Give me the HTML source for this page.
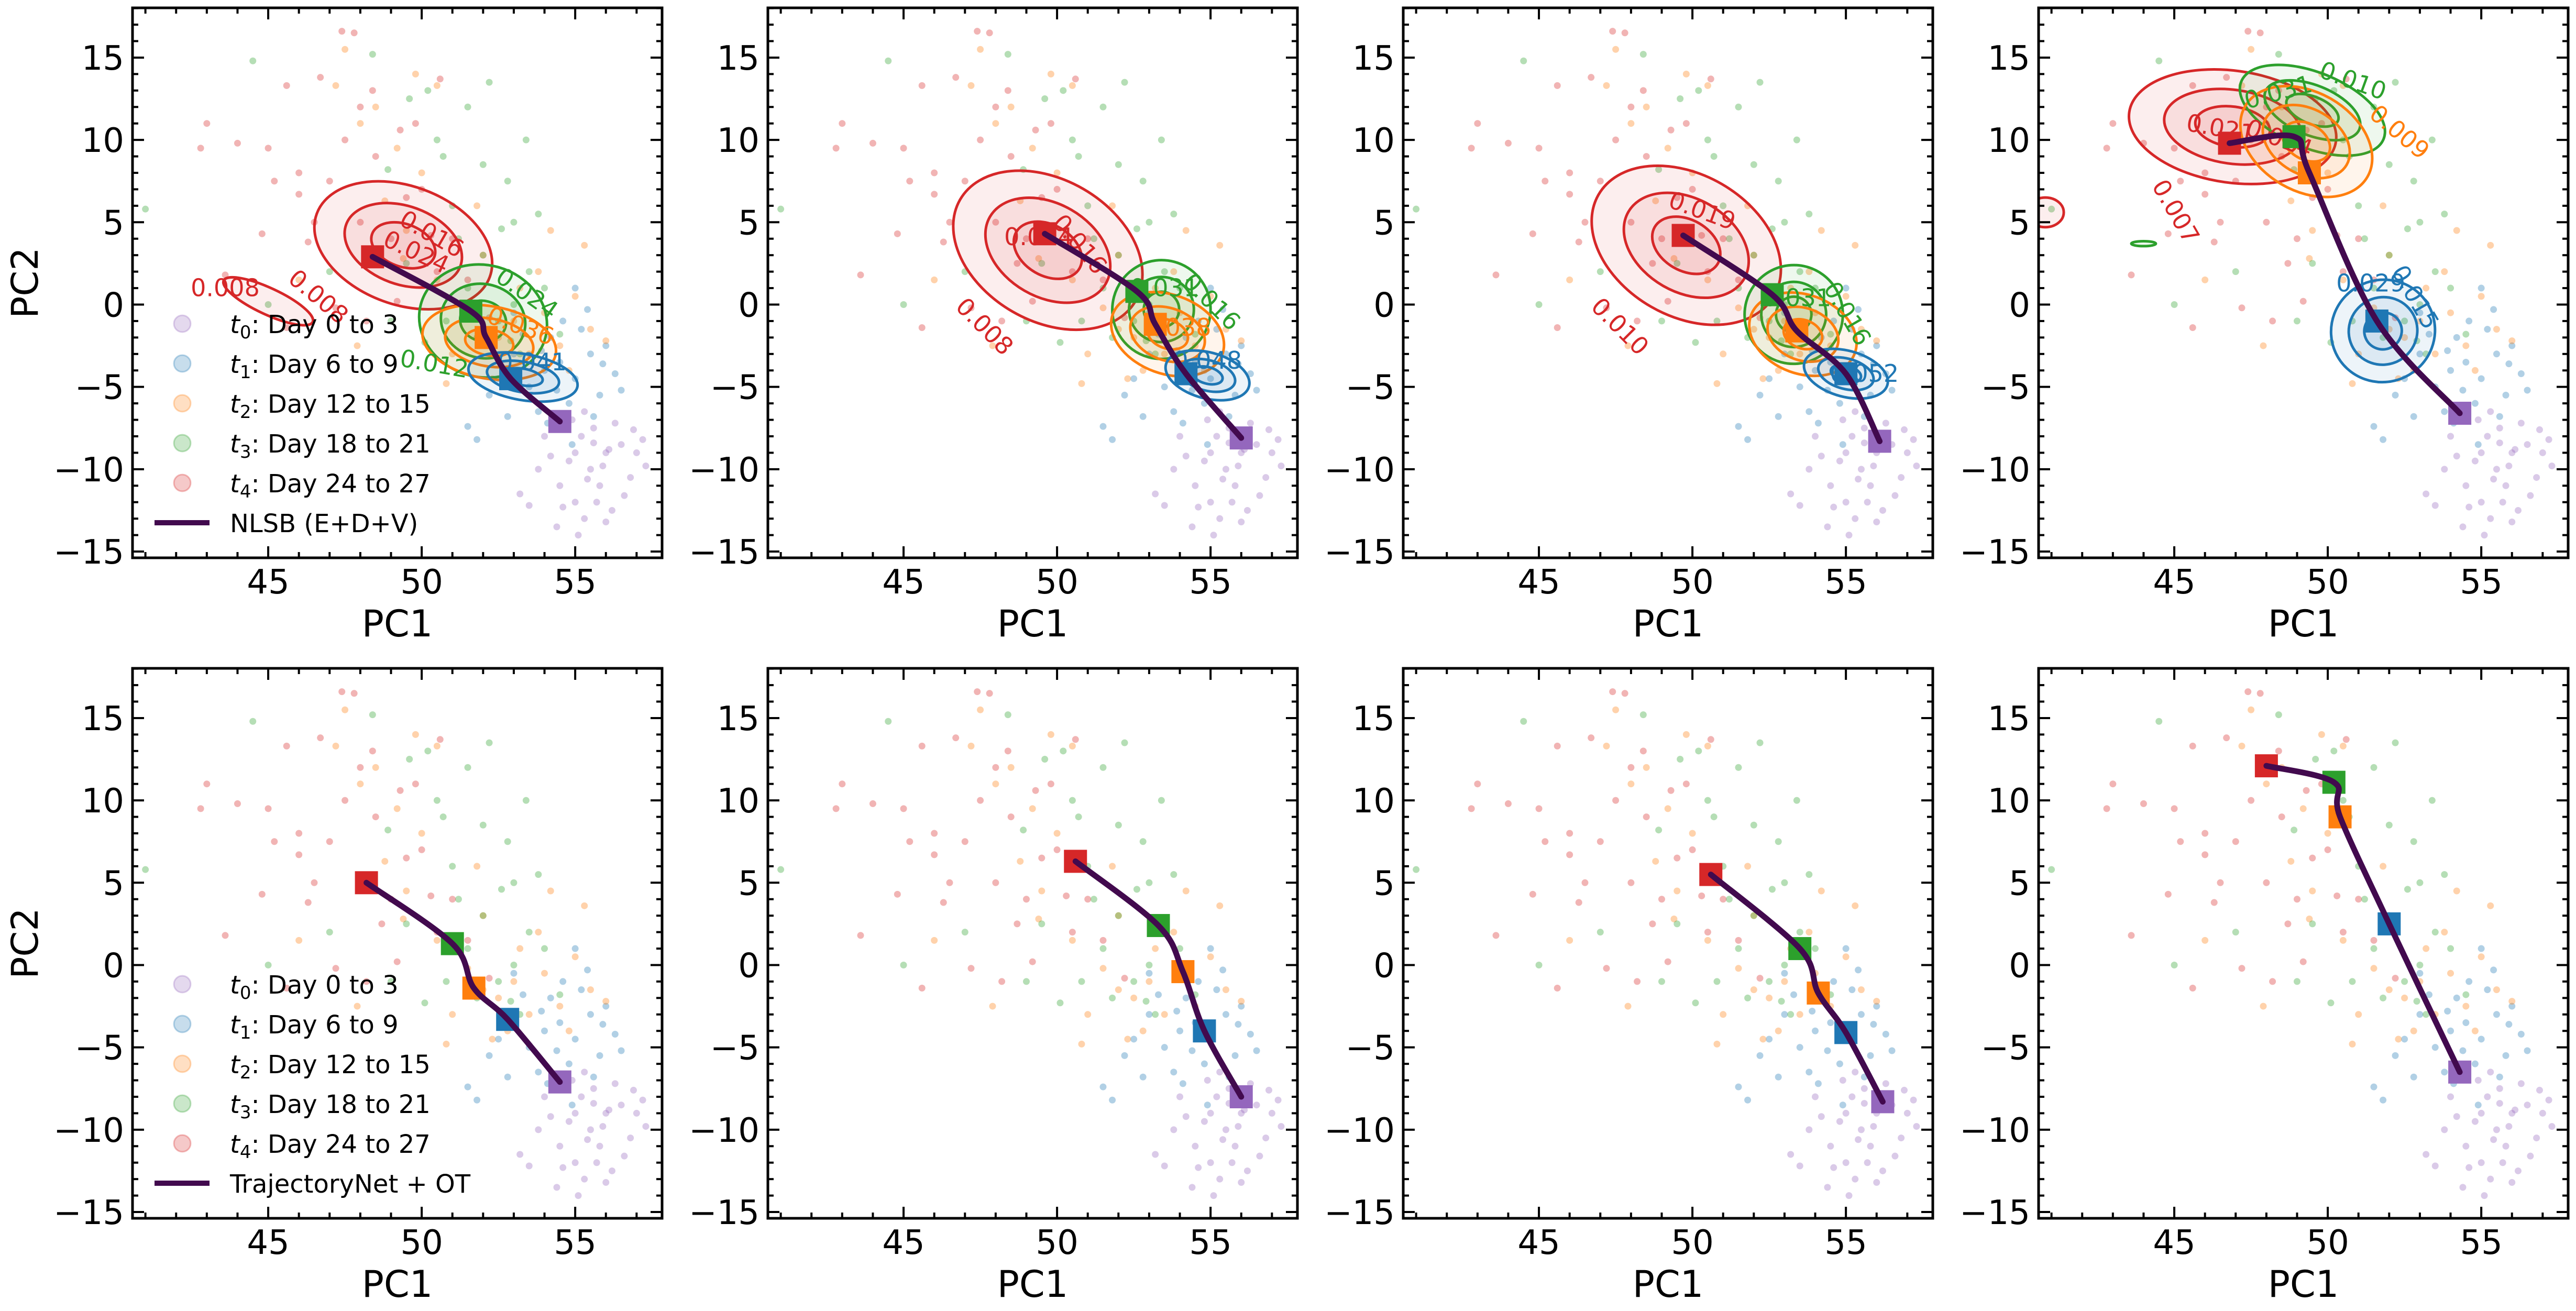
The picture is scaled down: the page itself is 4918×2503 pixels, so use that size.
<!DOCTYPE html>
<html><head><meta charset="utf-8"><style>
html,body{margin:0;padding:0;background:#fff;}
svg{display:block;font-family:"DejaVu Sans","Liberation Sans",sans-serif;}
</style></head><body>
<svg id="fig" width="4918" height="2503" viewBox="0 0 4918 2503" xmlns="http://www.w3.org/2000/svg"></svg>
<script>
// ---- data ----
const classColors = ["#9467bd","#1f77b4","#ff7f0e","#2ca02c","#d62728"];
const legendLabels = ["Day 0 to 3","Day 6 to 9","Day 12 to 15","Day 18 to 21","Day 24 to 27"];
const methodLabels = ["NLSB (E+D+V)","TrajectoryNet + OT"];
const xTicks = [45,50,55];
const yTicks = [-15,-10,-5,0,5,10,15];
const xLim = [40.58,57.83];
const yLim = [-15.38,18.02];
const pts0 = [[55.2,-8],[56,-9],[55.5,-10],[54.8,-9.5],[56.5,-8.5],[57,-9],[55.8,-11],[55,-12],[56.2,-12.5],[54.5,-11],[55.3,-13],[55.6,-7.5],[56.8,-10.5],[54,-8],[53.8,-10],[55.1,-14],[56.3,-7.2],[57.2,-8.2],[55.9,-9.8],[54.6,-12.3],[56.6,-11.6],[55.4,-10.6],[54.2,-9.2],[55.7,-12],[56.1,-8.8],[53.5,-12.2],[55,-9],[56.9,-7.6],[54.9,-7],[55.3,-6.5],[56,-13.2],[53.2,-11.5],[57.3,-9.8],[55.6,-8.4],[54.4,-13.5]];
const pts1 = [[54,-4],[54.5,-3.5],[53.5,-5],[55,-4.5],[55.5,-3],[54.2,-2],[53,-3],[52.5,-4.5],[54.8,-6],[55.8,-5.5],[53.8,-6.5],[54.6,-1],[56,-2.5],[55.2,-1.5],[53.3,-1.8],[52.8,-6.8],[54.1,-7.2],[55.6,-6.8],[56.3,-4.2],[53.9,-2.8],[55.4,-0.3],[52.2,-5.5],[51.5,-7.4],[54.9,-8.5],[56.5,-5.2],[53,-0.5],[55,1],[51.8,-8.2],[54.4,-5.2],[55.9,-3.6]];
const pts2 = [[53,-1],[52.5,-2],[54,-0.5],[53.5,-3],[52,-1.5],[54.5,-2.5],[51.5,-0.2],[55,0.5],[53.2,1],[52.8,-4],[54.8,-4],[55.5,-1.5],[51,-3],[50.5,1.5],[52,3],[49.5,4.5],[50,8],[49.2,9.5],[48.5,12],[47.2,13.3],[48,11],[49.8,14],[50.5,13.3],[47.5,15.5],[46,1.5],[55.3,3.6],[56,-2.2],[52.3,-4.5],[50.8,-4.8],[53.8,2],[48.8,6.3],[47.9,-2.5],[51.8,6],[49.4,2.8],[54.2,4.5]];
const pts3 = [[52,3],[53,5],[51.5,1],[52.5,-1],[53.5,2],[51,6],[52.8,7.5],[50.5,10],[51.5,12],[50.2,13],[52,8.5],[53,0],[54,1],[49.5,2.5],[50.8,-1],[53.2,-3],[51.8,-2],[49,-1],[48.4,15.2],[44.5,14.8],[41,5.8],[45,0],[53.8,5.5],[52.2,13.5],[50.7,9],[51.2,4],[54.5,-1.8],[49.6,12.5],[53.4,10],[52.6,4.6],[48.9,8.2],[50.1,-2.3],[47,2],[52.9,-2.2]];
const pts4 = [[48,5],[49,4],[47,7.5],[46.5,5],[48.5,9],[49.5,6.5],[47.5,10],[46,8],[45,9.5],[44,9.8],[43,11],[42.8,9.5],[48,12],[46.7,13.8],[45.6,13.3],[48.4,13],[50,7],[51,4],[50.5,2],[49.2,0.2],[48.2,-1],[47.2,-0.2],[45.6,-1.4],[43.6,1.8],[44.8,4.3],[46.3,3.8],[49.8,11],[47.8,16.5],[47.4,16.6],[50.3,4.2],[51.5,1.5],[48.7,2.5],[49.3,10.6],[46,6.7],[45.2,7.5],[50.6,13.7],[52.2,-0.8]];
const scatterSets = [pts0,pts1,pts2,pts3,pts4];
// trajectory markers per panel, order t4,t3,t2,t1,t0
const trajX = [[48.4,51.6,52.1,52.9,54.5],[49.6,52.6,53.2,54.2,56.0],[49.7,52.6,53.4,55.0,56.1],[46.8,48.9,49.4,51.6,54.3],
               [48.2,51.0,51.7,52.8,54.5],[50.6,53.3,54.1,54.8,56.0],[50.6,53.5,54.1,55.0,56.2],[48.0,50.2,50.4,52.0,54.3]];
const trajY = [[2.9,-0.4,-2.0,-4.5,-7.1],[4.3,0.8,-1.2,-4.2,-8.1],[4.2,0.6,-1.6,-4.2,-8.3],[9.8,10.2,8.0,-1.0,-6.6],
               [5.0,1.3,-1.4,-3.3,-7.1],[6.3,2.4,-0.4,-4.0,-8.0],[5.5,1.0,-1.7,-4.1,-8.3],[12.1,11.1,9.0,2.5,-6.5]];
const trajCls = [4,3,2,1,0];
// density contours (top row): [class, cx, cy, rx, ry, angle, levels]
const contours = [
 [[4,49.4,3.6,3.0,3.6,20,3],[4,45.0,0.2,1.6,0.8,25,1],[3,52.0,-1.0,2.1,3.4,15,3],[2,52.2,-2.3,2.2,2.2,10,3],[1,53.3,-4.4,1.8,1.4,10,3]],
 [[4,49.7,3.3,3.3,4.3,30,3],[3,53.4,-0.3,1.6,3.0,15,3],[2,53.6,-1.8,1.9,2.4,20,3],[1,54.9,-4.3,1.4,1.4,15,3]],
 [[4,49.8,3.6,3.3,4.3,30,3],[3,53.3,-0.6,1.6,3.0,15,3],[2,53.6,-1.8,1.8,2.4,20,3],[1,55.0,-4.2,1.4,1.4,15,3]],
 [[4,46.9,10.8,3.4,3.4,8,3],[4,40.8,5.6,0.6,0.9,0,1],[3,49.5,11.8,2.5,2.3,22,3],[3,44.0,3.7,0.4,0.15,0,1],[2,49.3,9.9,2.3,3.0,30,3],[1,51.8,-1.6,1.7,3.1,-25,3]]
];
const contourLabels = [
 [["0.008",43.6,0.9,0,4],["0.008",46.6,0.4,40,4],["0.016",50.3,4.2,30,4],["0.024",49.8,3.1,25,4],["0.024",53.4,0.6,35,3],["0.012",50.4,-3.7,10,3],["0.036",53.2,-1.4,20,2],["0.041",53.6,-3.6,0,1]],
 [["0.008",47.6,-1.4,45,4],["0.016",50.7,3.6,50,4],["0.024",49.4,4.0,0,4],["0.031",53.5,0.9,0,3],["0.016",55.0,0.1,45,3],["0.038",53.9,-1.5,0,2],["0.048",54.9,-3.5,0,1]],
 [["0.010",47.6,-1.4,45,4],["0.019",50.3,5.6,20,4],["0.031",53.4,0.3,0,3],["0.016",55.0,-0.6,60,3],["0.052",55.6,-4.3,0,1]],
 [["0.007",45.0,5.6,60,4],["0.021",46.5,10.6,10,4],["0.014",48.4,10.0,20,4],["0.010",50.8,13.5,20,3],["0.031",48.4,12.8,-15,3],["0.009",52.3,10.4,40,2],["0.015",52.8,0.4,60,1],["0.029",51.4,1.2,0,1]]
];

// ---- layout ----
const NS = "http://www.w3.org/2000/svg";
const svg = document.getElementById("fig");
const panelLeft = [253,1466,2679,3892];
const panelTop = [15,1276];
const PW = 1011, PH = 1050;
function mk(tag, attrs, parent){ const e=document.createElementNS(NS,tag); for(const k in attrs) e.setAttribute(k,attrs[k]); (parent||svg).appendChild(e); return e; }

function catmull(p){
  let d="M"+p[0][0]+","+p[0][1];
  for(let i=0;i<p.length-1;i++){
    const p0=p[Math.max(i-1,0)],p1=p[i],p2=p[i+1],p3=p[Math.min(i+2,p.length-1)];
    const c1=[p1[0]+(p2[0]-p0[0])/6,p1[1]+(p2[1]-p0[1])/6];
    const c2=[p2[0]-(p3[0]-p1[0])/6,p2[1]-(p3[1]-p1[1])/6];
    d+=" C"+c1[0]+","+c1[1]+" "+c2[0]+","+c2[1]+" "+p2[0]+","+p2[1];
  }
  return d;
}

for(let r=0;r<2;r++){
 for(let c=0;c<4;c++){
  const pi=r*4+c;
  const L=panelLeft[c], T=panelTop[r];
  const sx=v=>L+(v-xLim[0])/(xLim[1]-xLim[0])*PW;
  const sy=v=>T+PH-(v-yLim[0])/(yLim[1]-yLim[0])*PH;
  const kx=PW/(xLim[1]-xLim[0]), ky=PH/(yLim[1]-yLim[0]);
  const g=mk("g",{});
  
  
  const clipId="clip"+pi;
  const cp=mk("clipPath",{id:clipId},g); mk("rect",{x:L,y:T,width:PW,height:PH},cp);
  const plot=mk("g",{"clip-path":"url(#"+clipId+")"},g);
  
  
  for(let k=0;k<5;k++){
    const sg=mk("g",{fill:classColors[k],"fill-opacity":0.35},plot);
    
    
    scatterSets[k].forEach(p=>{
      const ci=mk("circle",{cx:sx(p[0]),cy:sy(p[1]),r:6.5},sg);
      
      
    });
  }
  if(r===0){
    contours[c].forEach(ct=>{
      const [k,cx,cy,rx,ry,ang,lv]=ct;
      const cg=mk("g",{transform:"rotate("+ang+" "+sx(cx)+" "+sy(cy)+")"},plot);
      
      
      const scales=[1,0.66,0.36].slice(0,lv);
      scales.forEach(s=>{
        mk("ellipse",{cx:sx(cx),cy:sy(cy),rx:rx*kx*s,ry:ry*ky*s,fill:classColors[k],"fill-opacity":0.08,stroke:classColors[k],"stroke-width":5},cg);
      });
    });
    contourLabels[c].forEach(lb=>{
      const t=mk("text",{x:sx(lb[1]),y:sy(lb[2]),fill:classColors[lb[4]],"font-size":46,"text-anchor":"middle","dominant-baseline":"middle",transform:"rotate("+lb[3]+" "+sx(lb[1])+" "+sy(lb[2])+")"},plot);
      t.textContent=lb[0];
      
      
    });
  }
  const tp=trajX[pi].map((x,i)=>[sx(x),sy(trajY[pi][i])]);
  trajCls.forEach((k,i)=>{
    const m=mk("rect",{x:tp[i][0]-22,y:tp[i][1]-22,width:44,height:44,fill:classColors[k]},plot);
    
    
  });
  const path=mk("path",{d:catmull(tp),fill:"none",stroke:"#420a4e","stroke-width":11,"stroke-linecap":"round"},plot);
  
  
  const fr=mk("rect",{x:L,y:T,width:PW,height:PH,fill:"none",stroke:"#000","stroke-width":5},g);
  
  
  const tk=mk("g",{stroke:"#000","stroke-width":4},g);
  
  
  for(let v=Math.ceil(xLim[0]);v<=xLim[1];v++){
    const len=(v%5===0)?22:11, X=sx(v);
    mk("line",{x1:X,y1:T+PH,x2:X,y2:T+PH-len},tk); mk("line",{x1:X,y1:T,x2:X,y2:T+len},tk);
  }
  for(let v=Math.ceil(yLim[0]);v<=yLim[1];v++){
    const len=(v%5===0)?22:11, Y=sy(v);
    mk("line",{x1:L,y1:Y,x2:L+len,y2:Y},tk); mk("line",{x1:L+PW,y1:Y,x2:L+PW-len,y2:Y},tk);
  }
  xTicks.forEach(v=>{
    const t=mk("text",{x:sx(v),y:T+PH+68,"font-size":64,"text-anchor":"middle"},g);
    t.textContent=String(v);
    
    
  });
  yTicks.forEach(v=>{
    const t=mk("text",{x:L-16,y:sy(v)+23,"font-size":64,"text-anchor":"end"},g);
    t.textContent=(v<0?"\u2212"+(-v):String(v));
    
    
  });
  const xl=mk("text",{x:L+PW/2,y:T+PH+150,"font-size":70,"text-anchor":"middle"},g);
  xl.textContent="PC1";
  
  
  if(c===0){
    const yl=mk("text",{x:0,y:0,"font-size":70,"text-anchor":"middle",transform:"translate(72 "+(T+PH/2)+") rotate(-90)"},g);
    yl.textContent="PC2";
    
    
    const lg=mk("g",{},g);
    
    
    for(let k=0;k<5;k++){
      const yy=T+603+k*76;
      const ci=mk("circle",{cx:L+95,cy:yy,r:16,fill:classColors[k],"fill-opacity":0.25,stroke:classColors[k],"stroke-opacity":0.3,"stroke-width":3},lg);
      
      
      const t=mk("text",{x:L+186,y:yy+18,"font-size":48},lg);
      
      
      const it=mk("tspan",{"font-style":"italic"},t); it.textContent="t";
      const sb=mk("tspan",{"font-size":34,dy:10},t); sb.textContent=String(k);
      const rest=mk("tspan",{dy:-10},t); rest.textContent=": "+legendLabels[k];
    }
    const ly=T+603+5*76;
    const ln=mk("line",{x1:L+42,y1:ly,x2:L+147,y2:ly,stroke:"#420a4e","stroke-width":10},lg);
    
    
    const lt=mk("text",{x:L+186,y:ly+18,"font-size":48},lg);
    lt.textContent=methodLabels[r];
    
    
  }
 }
}
</script>
</body></html>
